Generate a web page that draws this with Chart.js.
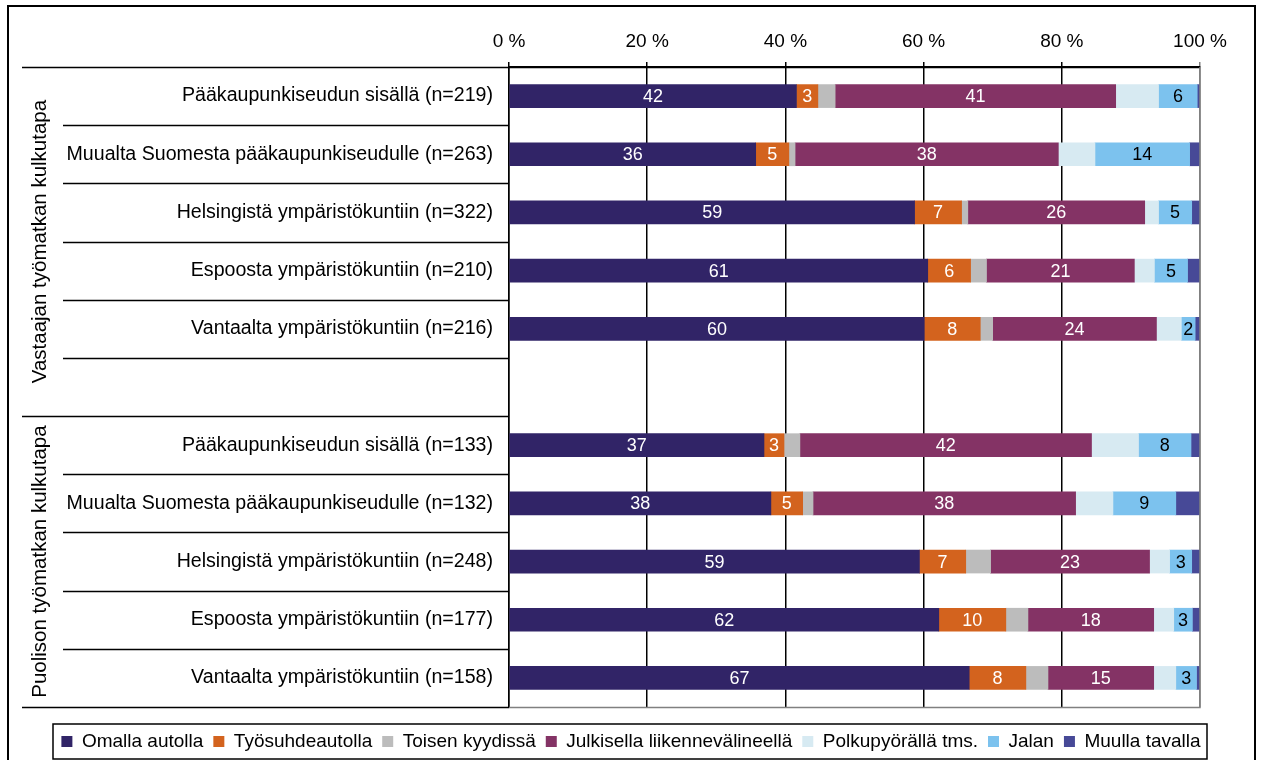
<!DOCTYPE html>
<html>
<head>
<meta charset="utf-8">
<script src="https://cdn.jsdelivr.net/npm/chart.js@4/dist/chart.umd.min.js"></script>
<style>
    html, body { margin: 0; padding: 0; background: #fff; }
    #wrap { width: 1261px; height: 760px; }
</style>
</head>
<body>
<div id="wrap"><canvas id="kulkutapa" width="1261" height="760"></canvas></div>
<script>

var categories = [
    'Pääkaupunkiseudun sisällä (n=219)',
    'Muualta Suomesta pääkaupunkiseudulle (n=263)',
    'Helsingistä ympäristökuntiin (n=322)',
    'Espoosta ympäristökuntiin (n=210)',
    'Vantaalta ympäristökuntiin (n=216)',
    '',
    'Pääkaupunkiseudun sisällä (n=133)',
    'Muualta Suomesta pääkaupunkiseudulle (n=132)',
    'Helsingistä ympäristökuntiin (n=248)',
    'Espoosta ympäristökuntiin (n=177)',
    'Vantaalta ympäristökuntiin (n=158)'
];

var groups = ['Vastaajan työmatkan kulkutapa', 'Puolison työmatkan kulkutapa'];

var seriesNames = ['Omalla autolla', 'Työsuhdeautolla', 'Toisen kyydissä', 'Julkisella liikennevälineellä',
    'Polkupyörällä tms.', 'Jalan', 'Muulla tavalla'];

var omalla     = [41.6, 35.7, 58.7, 60.6, 60.1, null, 36.9, 37.9, 59.4, 62.2, 66.6];
var tyosuhde   = [3.1, 4.8, 6.8, 6.2, 8.1, null, 2.9, 4.6, 6.7, 9.7, 8.2];
var toisen     = [2.5, 0.9, 0.9, 2.3, 1.8, null, 2.3, 1.5, 3.6, 3.2, 3.2];
var julkisella = [40.6, 38.1, 25.6, 21.4, 23.7, null, 42.2, 38.0, 23.0, 18.2, 15.3];
var polkupyora = [6.2, 5.3, 2.0, 2.9, 3.6, null, 6.8, 5.4, 2.9, 2.9, 3.2];
var jalan      = [5.6, 13.7, 4.8, 4.8, 2.0, null, 7.6, 9.1, 3.2, 2.7, 3.0];
var muulla     = [0.4, 1.5, 1.2, 1.8, 0.7, null, 1.3, 3.5, 1.2, 1.1, 0.5];

var xTicks = [0, 20, 40, 60, 80, 100];

var colors = ['#312467', '#d3631e', '#bcbcbc', '#843365', '#d7eaf2', '#7cc2ee', '#474997'];
// which series get a value label, and in what colour
var labelColors = ['#fff', '#fff', null, '#fff', null, '#000', null];

var FONT = 'Liberation Sans, Arial, sans-serif';
var LEFT_X = 509;

var values = [omalla, tyosuhde, toisen, julkisella, polkupyora, jalan, muulla];
var datasets = [];
for (var i = 0; i < values.length; i++) {
    datasets.push({
        label: seriesNames[i],
        data: values[i],
        backgroundColor: colors[i],
        borderWidth: 0,
        barThickness: 23
    });
}

// lines, group titles and frame round the label area
var framePlugin = {
    id: 'frame',
    afterLayout: function (chart) {
        // move legend into the drawn box (centred on the whole frame, not the plot)
        chart.legend.top += 15;
        chart.legend.bottom += 15;
        chart.legend.left += 27;
        chart.legend.right += 27;
    },
    beforeDraw: function (chart) {
        var ctx = chart.ctx;
        ctx.save();
        ctx.fillStyle = '#fff';
        ctx.fillRect(0, 0, chart.width, chart.height);
        ctx.restore();
    },
    afterDraw: function (chart) {
        var ctx = chart.ctx;
        var y = chart.scales.y;
        var area = chart.chartArea;
        ctx.save();

        // outer frame
        ctx.strokeStyle = '#000';
        ctx.lineWidth = 2;
        ctx.strokeRect(8, 6, 1247, 800);

        // row separators in the label column
        ctx.lineWidth = 1.5;
        for (var i = 0; i <= categories.length; i++) {
            var py;
            if (i == 0) py = area.top;
            else if (i == categories.length) py = area.bottom;
            else py = (y.getPixelForValue(i - 1) + y.getPixelForValue(i)) / 2;
            py = Math.round(py) + 0.5;
            var long = (i == 0 || i == 6 || i == categories.length);
            ctx.beginPath();
            ctx.moveTo(long ? 22 : 63, py);
            ctx.lineTo(i == 0 ? area.right : area.left, py);
            ctx.stroke();
        }

        // grey plot border bottom/right
        ctx.strokeStyle = '#808080';
        ctx.lineWidth = 1.5;
        ctx.beginPath();
        ctx.moveTo(area.left, Math.round(area.bottom) + 0.5);
        ctx.lineTo(area.right, Math.round(area.bottom) + 0.5);
        ctx.lineTo(area.right, area.top);
        ctx.stroke();

        // group titles
        ctx.fillStyle = '#000';
        ctx.font = '20.5px ' + FONT;
        ctx.textAlign = 'center';
        ctx.textBaseline = 'middle';
        var gTop = [area.top, (y.getPixelForValue(5) + y.getPixelForValue(6)) / 2];
        var gBot = [gTop[1], area.bottom];
        for (var g = 0; g < groups.length; g++) {
            ctx.save();
            ctx.translate(40, (gTop[g] + gBot[g]) / 2);
            ctx.rotate(-Math.PI / 2);
            ctx.fillText(groups[g], 0, 0);
            ctx.restore();
        }

        // legend frame
        ctx.strokeStyle = '#000';
        ctx.lineWidth = 1.5;
        ctx.strokeRect(53, 724, 1154, 35);
        ctx.restore();
    },
    afterDatasetsDraw: function (chart) {
        var ctx = chart.ctx;
        ctx.save();
        ctx.font = '18px ' + FONT;
        ctx.textAlign = 'center';
        ctx.textBaseline = 'middle';
        for (var d = 0; d < chart.data.datasets.length; d++) {
            if (!labelColors[d]) continue;
            var meta = chart.getDatasetMeta(d);
            var data = chart.data.datasets[d].data;
            ctx.fillStyle = labelColors[d];
            for (var j = 0; j < meta.data.length; j++) {
                if (data[j] == null) continue;
                var el = meta.data[j];
                ctx.fillText(String(Math.round(data[j])), (el.x + el.base) / 2, el.y + 1);
            }
        }
        ctx.restore();
    }
};

var chart = new Chart(document.getElementById('kulkutapa').getContext('2d'), {
    type: 'bar',
    data: {
        labels: categories,
        datasets: datasets
    },
    options: {
        indexAxis: 'y',
        responsive: false,
        animation: false,
        layout: {padding: {left: 8, right: 61, top: 0, bottom: 14}},
        scales: {
            x: {
                position: 'top',
                stacked: true,
                min: 0,
                max: 100,
                afterBuildTicks: function (scale) {
                    scale.ticks = xTicks.map(function (v) { return {value: v}; });
                },
                afterFit: function (scale) {
                    scale.height = 67;
                },
                ticks: {
                    color: '#000',
                    font: {family: FONT, size: 19},
                    padding: 9,
                    maxRotation: 0,
                    callback: function (v) { return v + ' %'; }
                },
                grid: {
                    color: function (c) { return c.tick && c.tick.value == 100 ? '#808080' : '#000'; },
                    lineWidth: 1.5,
                    tickLength: 5
                },
                border: {display: true, color: '#000', width: 1.5}
            },
            y: {
                stacked: true,
                afterFit: function (scale) {
                    scale.width = LEFT_X - 8;
                },
                ticks: {
                    color: '#000',
                    font: {family: FONT, size: 19.6},
                    padding: 16,
                    autoSkip: false
                },
                grid: {display: false, drawTicks: false},
                border: {display: true, color: '#000', width: 1.5}
            }
        },
        plugins: {
            legend: {
                position: 'bottom',
                labels: {
                    color: '#000',
                    font: {family: FONT, size: 19},
                    boxWidth: 11,
                    boxHeight: 11,
                    padding: 10
                }
            },
            tooltip: {enabled: false}
        }
    },
    plugins: [framePlugin]
});
</script>
</body>
</html>
